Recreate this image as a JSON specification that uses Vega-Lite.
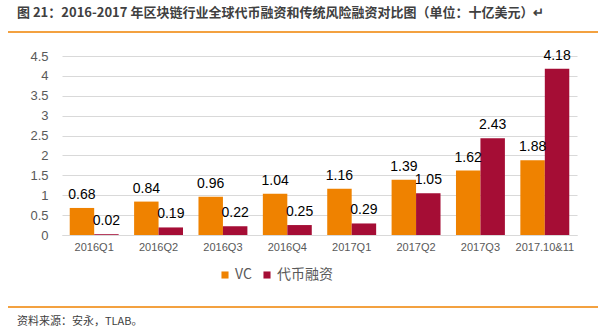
{
  "$schema": "https://vega.github.io/schema/vega-lite/v6.json",
  "width": 515,
  "height": 179,
  "autosize": "none",
  "padding": {"left": 62, "top": 56, "right": 29, "bottom": 99},
  "background": "white",
  "title": {
    "text": "图 21：2016-2017 年区块链行业全球代币融资和传统风险融资对比图（单位：十亿美元）↵",
    "anchor": "start",
    "frame": "group",
    "dx": -45,
    "offset": 11,
    "font": "Noto Sans CJK SC",
    "fontSize": 13,
    "fontWeight": "bold",
    "color": "#404040"
  },
  "config": {
    "view": {"stroke": null},
    "font": "Liberation Sans"
  },
  "data": {
    "values": [
      {"period": "2016Q1", "type": "VC", "value": 0.68},
      {"period": "2016Q1", "type": "代币融资", "value": 0.02},
      {"period": "2016Q2", "type": "VC", "value": 0.84},
      {"period": "2016Q2", "type": "代币融资", "value": 0.19},
      {"period": "2016Q3", "type": "VC", "value": 0.96},
      {"period": "2016Q3", "type": "代币融资", "value": 0.22},
      {"period": "2016Q4", "type": "VC", "value": 1.04},
      {"period": "2016Q4", "type": "代币融资", "value": 0.25},
      {"period": "2017Q1", "type": "VC", "value": 1.16},
      {"period": "2017Q1", "type": "代币融资", "value": 0.29},
      {"period": "2017Q2", "type": "VC", "value": 1.39},
      {"period": "2017Q2", "type": "代币融资", "value": 1.05},
      {"period": "2017Q3", "type": "VC", "value": 1.62},
      {"period": "2017Q3", "type": "代币融资", "value": 2.43},
      {"period": "2017.10&11", "type": "VC", "value": 1.88},
      {"period": "2017.10&11", "type": "代币融资", "value": 4.18}
    ]
  },
  "encoding": {
    "x": {
      "field": "period",
      "type": "nominal",
      "sort": null,
      "scale": {"paddingInner": 0.24, "paddingOuter": 0.12},
      "axis": {
        "title": null,
        "labelAngle": 0,
        "labelFontSize": 11,
        "labelColor": "#595959",
        "labelPadding": 6,
        "domain": true,
        "domainColor": "#D9D9D9",
        "ticks": false
      }
    },
    "xOffset": {"field": "type", "type": "nominal", "sort": ["VC", "代币融资"], "scale": {"paddingInner": 0, "paddingOuter": 0}},
    "y": {
      "field": "value",
      "type": "quantitative",
      "scale": {"domain": [0, 4.5], "nice": false},
      "axis": {
        "title": null,
        "values": [0, 0.5, 1, 1.5, 2, 2.5, 3, 3.5, 4, 4.5],
        "format": ".2~f",
        "labelFontSize": 13,
        "labelColor": "#595959",
        "labelPadding": 14,
        "domain": false,
        "ticks": false,
        "gridColor": "#D9D9D9",
        "gridWidth": 1
      }
    }
  },
  "layer": [
    {
      "mark": {"type": "bar"},
      "encoding": {
        "color": {
          "field": "type",
          "type": "nominal",
          "sort": ["VC", "代币融资"],
          "scale": {"domain": ["VC", "代币融资"], "range": ["#EF8200", "#A50D35"]},
          "legend": {
            "title": null,
            "orient": "none",
            "legendX": 156,
            "legendY": 212,
            "direction": "horizontal",
            "symbolType": "square",
            "symbolSize": 50,
            "symbolStrokeWidth": 0,
            "labelFontSize": 14,
            "labelColor": "#595959",
            "labelFont": "Noto Sans CJK SC",
            "labelOffset": 3,
            "columnPadding": 8
          }
        }
      }
    },
    {
      "mark": {"type": "text", "baseline": "alphabetic", "dy": -9, "fontSize": 14, "color": "#000000"},
      "encoding": {
        "text": {"field": "value", "type": "quantitative", "format": ".2f"}
      }
    },
    {
      "data": {"values": [{"line": "header"}]},
      "mark": {"type": "rule", "color": "#EF8200", "strokeWidth": 1.5},
      "encoding": {
        "x": {"value": -54},
        "x2": {"value": 536},
        "y": {"value": -24},
        "xOffset": null
      }
    },
    {
      "data": {"values": [{"line": "footer"}]},
      "mark": {"type": "rule", "color": "#EF8200", "strokeWidth": 1.5},
      "encoding": {
        "x": {"value": -54},
        "x2": {"value": 536},
        "y": {"value": 251},
        "xOffset": null
      }
    },
    {
      "data": {"values": [{"src": "资料来源：安永，TLAB。"}]},
      "mark": {"type": "text", "align": "left", "baseline": "middle", "font": "Noto Sans CJK SC", "fontSize": 11, "color": "#404040"},
      "encoding": {
        "text": {"field": "src"},
        "x": {"value": -45},
        "y": {"value": 266},
        "xOffset": null
      }
    }
  ]
}
